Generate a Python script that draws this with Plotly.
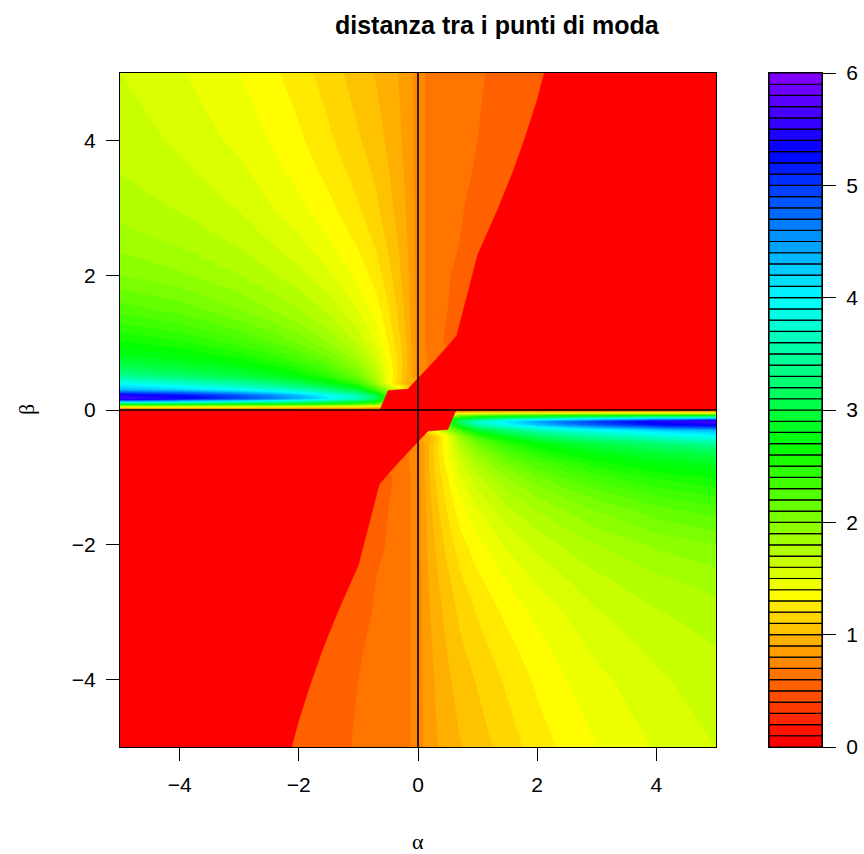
import colorsys
import plotly.graph_objects as go

# ---- data -------------------------------------------------------------
alpha = [-5, -4, -3, -2.5, -2, -1.5, -1, -0.7, -0.5, -0.3, -0.15, 0,
         0.15, 0.3, 0.5, 0.7, 1, 1.5, 2, 2.5, 3, 4, 5]
beta_upper = [0, 0.02, 0.05, 0.08, 0.12, 0.17, 0.22, 0.3, 0.4, 0.5, 0.65,
              0.8, 1, 1.25, 1.5, 2, 2.5, 3, 3.5, 4, 5]

N = None  # single-mode area (distance 0), painted by the zero-region polygons
# distance between the modes for beta >= 0 (one row per beta_upper value)
dist_upper = [
    [0.55, 0.55, 0.55, 0.55, 0.55, 0.55, 0.55, 0.55, N, N, N, N, N, N, N, 0.55, 0.55, 0.55, 0.55, 0.55, 0.55, 0.55, 0.55],
    [0.80, 0.80, 0.80, 0.80, 0.80, 0.78, 0.75, 0.72, N, N, N, N, N, N, N, N, N, N, N, N, N, N, N],
    [1.50, 1.50, 1.48, 1.46, 1.44, 1.40, 1.35, 1.25, N, N, N, N, N, N, N, N, N, N, N, N, N, N, N],
    [2.60, 2.55, 2.48, 2.43, 2.37, 2.28, 2.15, 1.95, N, N, N, N, N, N, N, N, N, N, N, N, N, N, N],
    [4.10, 3.95, 3.70, 3.55, 3.40, 3.20, 2.95, 2.60, N, N, N, N, N, N, N, N, N, N, N, N, N, N, N],
    [5.70, 5.45, 5.00, 4.75, 4.45, 4.10, 3.70, 3.20, N, N, N, N, N, N, N, N, N, N, N, N, N, N, N],
    [5.45, 5.25, 4.85, 4.60, 4.30, 3.95, 3.55, 3.00, N, N, N, N, N, N, N, N, N, N, N, N, N, N, N],
    [4.35, 4.20, 3.95, 3.80, 3.60, 3.30, 2.90, 2.30, N, N, N, N, N, N, N, N, N, N, N, N, N, N, N],
    [3.90, 3.70, 3.45, 3.30, 3.08, 2.78, 2.36, 1.87, 1.39, 1.10, 0.92, N, N, N, N, N, N, N, N, N, N, N, N],
    [3.45, 3.25, 3.02, 2.88, 2.70, 2.45, 2.10, 1.75, 1.42, 1.14, 0.95, 0.75, N, N, N, N, N, N, N, N, N, N, N],
    [3.05, 2.92, 2.75, 2.62, 2.46, 2.25, 1.93, 1.64, 1.39, 1.15, 0.96, 0.75, 0.70, N, N, N, N, N, N, N, N, N, N],
    [2.82, 2.72, 2.55, 2.42, 2.27, 2.07, 1.80, 1.56, 1.35, 1.14, 0.96, 0.75, 0.70, 0.64, N, N, N, N, N, N, N, N, N],
    [2.62, 2.52, 2.35, 2.22, 2.08, 1.90, 1.67, 1.48, 1.30, 1.11, 0.95, 0.75, 0.69, 0.63, 0.58, N, N, N, N, N, N, N, N],
    [2.42, 2.32, 2.15, 2.04, 1.92, 1.77, 1.57, 1.41, 1.25, 1.08, 0.93, 0.75, 0.69, 0.64, 0.59, N, N, N, N, N, N, N, N],
    [2.25, 2.15, 2.00, 1.90, 1.80, 1.67, 1.49, 1.35, 1.21, 1.06, 0.92, 0.75, 0.69, 0.64, 0.60, 0.56, N, N, N, N, N, N, N],
    [2.00, 1.92, 1.80, 1.72, 1.63, 1.52, 1.37, 1.25, 1.14, 1.01, 0.90, 0.75, 0.69, 0.65, 0.61, 0.57, N, N, N, N, N, N, N],
    [1.85, 1.78, 1.68, 1.60, 1.52, 1.41, 1.28, 1.18, 1.08, 0.98, 0.88, 0.75, 0.69, 0.66, 0.62, 0.60, 0.56, N, N, N, N, N, N],
    [1.76, 1.69, 1.59, 1.51, 1.43, 1.33, 1.21, 1.12, 1.04, 0.95, 0.87, 0.75, 0.69, 0.66, 0.63, 0.61, 0.57, N, N, N, N, N, N],
    [1.70, 1.63, 1.53, 1.45, 1.37, 1.27, 1.16, 1.08, 1.01, 0.93, 0.86, 0.75, 0.69, 0.66, 0.64, 0.62, 0.59, 0.55, N, N, N, N, N],
    [1.66, 1.58, 1.47, 1.40, 1.32, 1.22, 1.11, 1.05, 0.98, 0.91, 0.85, 0.75, 0.69, 0.67, 0.64, 0.62, 0.60, 0.56, N, N, N, N, N],
    [1.60, 1.51, 1.40, 1.33, 1.25, 1.15, 1.05, 0.99, 0.94, 0.89, 0.84, 0.75, 0.69, 0.67, 0.65, 0.63, 0.61, 0.57, 0.54, N, N, N, N],
]

# edge of the zero-distance region for beta >= 0 (alpha, beta)
edge_alpha = [-0.64, -0.5, -0.17, 0, 0.3, 0.65, 0.8, 1.0, 1.35, 1.6, 1.8, 2.0, 2.12]
edge_beta = [0, 0.29, 0.31, 0.47, 0.75, 1.1, 1.6, 2.3, 3.0, 3.55, 4.05, 4.6, 5.0]

key_levels = [round(0.1 * i, 1) for i in range(61)]
key_ticks = [0, 1, 2, 3, 4, 5, 6]
alpha_ticks = [-4, -2, 0, 2, 4]
beta_ticks = [-4, -2, 0, 2, 4]
alpha_range = [-5, 5]
beta_range = [-5, 5]

# ---- full grid: the surface is symmetric under (alpha, beta) -> (-alpha, -beta)
beta_full = [-b for b in reversed(beta_upper[1:])] + beta_upper
z_full = [row[::-1] for row in reversed(dist_upper[1:])] + dist_upper

# zero regions (upper polygon and its point reflection)
up_x = edge_alpha + [alpha_range[1], alpha_range[1]]
up_y = edge_beta + [beta_range[1], 0]
lo_x = [-a for a in up_x]
lo_y = [-b for b in up_y]

# ---- palette: 60 rainbow bands from red towards violet --------------------
n_bands = len(key_levels) - 1


def band_colour(k):
    r, g, b = colorsys.hsv_to_rgb(0.75 * k / (n_bands - 1), 1.0, 1.0)
    return "#%02x%02x%02x" % (round(r * 255), round(g * 255), round(b * 255))


band_colours = [band_colour(k) for k in range(n_bands)]
step_scale = []
for k, c in enumerate(band_colours):
    lo = max(0.0, (k - 0.5) / (n_bands - 1))
    hi = min(1.0, (k + 0.5) / (n_bands - 1) - 1e-5)
    step_scale.append([lo, c])
    step_scale.append([hi, c])
step_scale[-1][0] = 1.0


def minus(v):
    return str(v).replace("-", "\u2212")


fig = go.Figure()

fig.add_trace(go.Contour(
    x=alpha, y=beta_full, z=z_full,
    connectgaps=True,
    autocontour=False,
    contours=dict(start=key_levels[1], end=key_levels[-2], size=0.1,
                  coloring="fill", showlines=False),
    line=dict(width=0, smoothing=0),
    colorscale=step_scale,
    showscale=False,
    hoverinfo="skip",
    xaxis="x", yaxis="y",
))

for px, py in ((up_x, up_y), (lo_x, lo_y)):
    fig.add_trace(go.Scatter(
        x=px, y=py, mode="lines", fill="toself",
        fillcolor=band_colours[0], line=dict(color=band_colours[0], width=0.5),
        hoverinfo="skip", xaxis="x", yaxis="y",
    ))

# colour key
fig.add_trace(go.Bar(
    x=[0.5] * n_bands, y=[key_levels[i + 1] - key_levels[i] for i in range(n_bands)],
    base=key_levels[:-1], width=1,
    marker=dict(color=band_colours, line=dict(color="black", width=1.2)),
    hoverinfo="skip", xaxis="x2", yaxis="y2",
))

# reference lines alpha = 0, beta = 0
fig.add_hline(y=0, line=dict(color="black", width=1.6), xref="x", yref="y")
fig.add_vline(x=0, line=dict(color="black", width=1.6), xref="x", yref="y")

W, H = 864, 854
main_x = [120 / W, 716 / W]
main_y = [1 - 747 / H, 1 - 73 / H]
key_x = [769 / W, 822 / W]

axis_common = dict(
    ticks="outside", ticklen=13, tickwidth=1.2, tickcolor="black",
    showline=True, linecolor="black", linewidth=1.2, mirror=True,
    showgrid=False, zeroline=False, automargin=False,
    tickfont=dict(size=21, color="black"),
)

fig.update_layout(
    width=W, height=H,
    margin=dict(l=0, r=0, t=0, b=0),
    paper_bgcolor="white", plot_bgcolor="white",
    showlegend=False, barmode="overlay",
    font=dict(family="Liberation Sans, Arial, sans-serif", size=21, color="black"),
    xaxis=dict(domain=main_x, range=alpha_range, anchor="y",
               tickvals=alpha_ticks, ticktext=[minus(v) for v in alpha_ticks],
               ticklabelstandoff=6, **axis_common),
    yaxis=dict(domain=main_y, range=beta_range, anchor="x",
               tickvals=beta_ticks, ticktext=[minus(v) for v in beta_ticks],
               ticklabelstandoff=6, **axis_common),
    xaxis2=dict(domain=key_x, range=[0, 1], anchor="y2",
                showticklabels=False, ticks="", showline=True, mirror=True,
                linecolor="black", linewidth=1.2, showgrid=False, zeroline=False),
    yaxis2=dict(domain=main_y, range=[key_levels[0], key_levels[-1]], anchor="x2",
                side="right", tickvals=key_ticks, ticklabelstandoff=6,
                **axis_common),
    annotations=[
        dict(text="<b>distanza tra i punti di moda</b>", x=497 / W, y=1 - 25 / H,
             xref="paper", yref="paper", showarrow=False,
             xanchor="center", yanchor="middle",
             font=dict(size=25, family="Liberation Sans, Arial, sans-serif")),
        dict(text="\u03b1", x=418 / W, y=1 - 841 / H, xref="paper", yref="paper",
             showarrow=False, xanchor="center", yanchor="middle",
             font=dict(size=22, family="Liberation Serif, DejaVu Serif, serif")),
        dict(text="\u03b2", x=26 / W, y=1 - 410 / H, xref="paper", yref="paper",
             showarrow=False, xanchor="center", yanchor="middle", textangle=-90,
             font=dict(size=22, family="Liberation Serif, DejaVu Serif, serif")),
    ],
)

fig.write_html("out.html")
